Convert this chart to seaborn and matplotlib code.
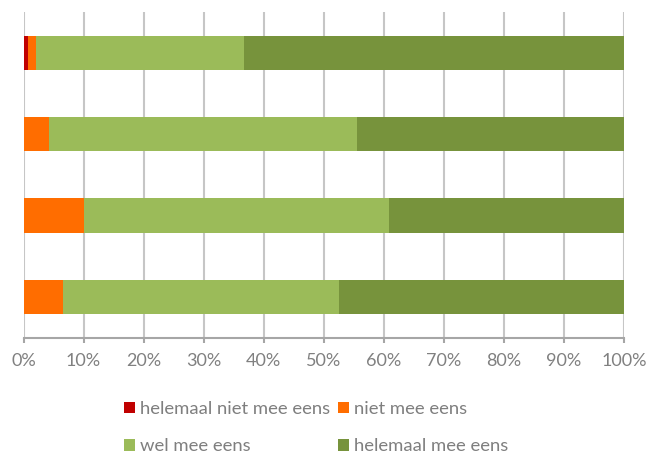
import numpy as np
import pandas as pd
import matplotlib
matplotlib.use("Agg")
import matplotlib.pyplot as plt
from matplotlib.patches import Patch
import seaborn as sns

# Survey answers per statement (percent of respondents)
statements = ["1", "2", "3", "4"]
helemaal_niet_mee_eens = [0.7, 0.0, 0.0, 0.0]
niet_mee_eens = [1.4, 4.3, 10.1, 6.5]
wel_mee_eens = [34.6, 51.2, 50.8, 46.0]
helemaal_mee_eens = [63.3, 44.5, 39.1, 47.5]

labels = ["helemaal niet mee eens", "niet mee eens", "wel mee eens", "helemaal mee eens"]
colors = ["#C00000", "#FF6D00", "#9BBB59", "#77933C"]
tick_values = [0, 10, 20, 30, 40, 50, 60, 70, 80, 90, 100]
tick_labels = [f"{v}%" for v in tick_values]

sns.set_theme(style="white")
plt.rcParams["font.family"] = ["Lato", "DejaVu Sans"]

series = np.array([helemaal_niet_mee_eens, niet_mee_eens, wel_mee_eens, helemaal_mee_eens])
cumulative = series.cumsum(axis=0)

fig = plt.figure(figsize=(6.49, 4.55), dpi=100)
ax = fig.add_axes([23.5 / 649, 1 - 337.5 / 455, (624 - 23.5) / 649, 325.5 / 455])

# Stacked horizontal bars: draw the running totals from the widest down
for i in range(len(labels) - 1, -1, -1):
    df = pd.DataFrame({"statement": statements, "value": cumulative[i]})
    sns.barplot(data=df, x="value", y="statement", orient="h", color=colors[i],
                width=0.42, saturation=1, ax=ax, linewidth=0, zorder=3)

ax.set_xlim(0, 100)
ax.set_xticks(tick_values)
ax.set_xticklabels(tick_labels)
ax.set_xlabel("")
ax.set_ylabel("")
ax.set_yticks([])

ax.grid(axis="x", color="#c6c6c6", linewidth=1.5, zorder=0)
for side in ["top", "right", "left"]:
    ax.spines[side].set_visible(False)
ax.spines["bottom"].set_color("#a6a6a6")
ax.spines["bottom"].set_linewidth(1.5)
ax.spines["bottom"].set_zorder(4)
ax.tick_params(axis="x", bottom=True, length=3.8, width=1.5, color="#a6a6a6",
               labelsize=13, labelcolor="#808080", pad=7)

# Legend laid out in two rows of two
handles = [Patch(facecolor=c, edgecolor="none") for c in colors]
order = [0, 2, 1, 3]
fig.legend([handles[k] for k in order], [labels[k] for k in order],
           ncol=2, loc="upper left", bbox_to_anchor=(124 / 649, 1 - 401 / 455),
           frameon=False, fontsize=13.3, labelcolor="#7f7f7f",
           handlelength=0.6, handleheight=0.6, handletextpad=0.25,
           columnspacing=0.45, labelspacing=1.15, borderpad=0, borderaxespad=0)

fig.savefig("out.png", dpi=100)
